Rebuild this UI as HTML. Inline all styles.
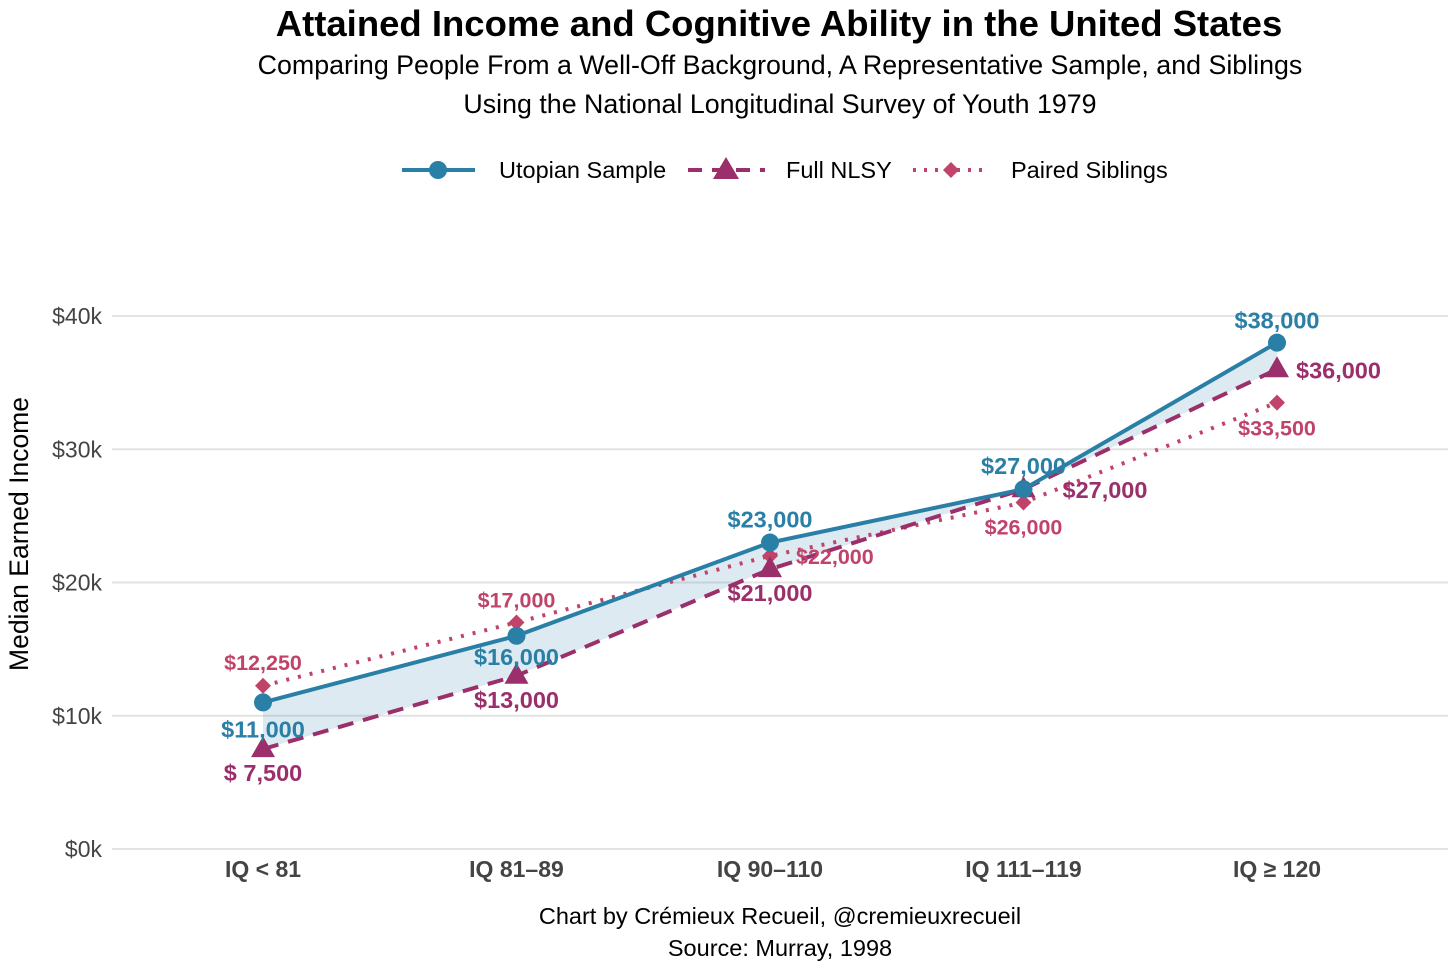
<!DOCTYPE html>
<html><head><meta charset="utf-8">
<style>
body{margin:0;background:#fff;font-family:"Liberation Sans",Arial,sans-serif;}
svg text{font-family:"Liberation Sans",Arial,sans-serif;}
</style></head>
<body>
<svg id="chart" width="1456" height="971" viewBox="0 0 1456 971" xmlns="http://www.w3.org/2000/svg">
<text x="779" y="36" text-anchor="middle" font-size="36.5" font-weight="bold" fill="#000">Attained Income and Cognitive Ability in the United States</text>
<text x="780" y="74" text-anchor="middle" font-size="26.8" fill="#000">Comparing People From a Well-Off Background, A Representative Sample, and Siblings</text>
<text x="780" y="113" text-anchor="middle" font-size="26.8" fill="#000">Using the National Longitudinal Survey of Youth 1979</text>
<g>
 <g>
  <line x1="402" y1="170" x2="475" y2="170" stroke="#2a7fa6" stroke-width="4"/>
  <circle cx="438" cy="170" r="9" fill="#2a7fa6"/>
  <text x="499" y="178" font-size="23.5" fill="#000">Utopian Sample</text>
 </g>
 <g>
  <line x1="688" y1="170" x2="765" y2="170" stroke="#9b2f6b" stroke-width="4" stroke-dasharray="14,10"/>
  <polygon points="726,157 739,179 713,179" fill="#9b2f6b"/>
  <text x="786" y="178" font-size="23.5" fill="#000">Full NLSY</text>
 </g>
 <g>
  <line x1="913" y1="170" x2="988" y2="170" stroke="#c0436a" stroke-width="4" stroke-dasharray="3,8"/>
  <polygon points="951,162 959,170 951,178 943,170" fill="#c0436a"/>
  <text x="1011" y="178" font-size="23.5" fill="#000">Paired Siblings</text>
 </g>
</g>
<text transform="translate(28,534) rotate(-90)" text-anchor="middle" font-size="26.5" fill="#000">Median Earned Income</text>
<g id="grid"></g>
<g id="marks"></g>
<text x="780" y="924" text-anchor="middle" font-size="23.5" fill="#000">Chart by Crémieux Recueil, @cremieuxrecueil</text>
<text x="780" y="956" text-anchor="middle" font-size="23.5" fill="#000">Source: Murray, 1998</text>
</svg>
<script>
const categories = ["IQ < 81", "IQ 81–89", "IQ 90–110", "IQ 111–119", "IQ ≥ 120"];
const utopian = [11000, 16000, 23000, 27000, 38000];
const fullNlsy = [7500, 13000, 21000, 27000, 36000];
const paired = [12250, 17000, 22000, 26000, 33500];
const utopianLabels = ["$11,000", "$16,000", "$23,000", "$27,000", "$38,000"];
const fullLabels = ["$ 7,500", "$13,000", "$21,000", "$27,000", "$36,000"];
const pairedLabels = ["$12,250", "$17,000", "$22,000", "$26,000", "$33,500"];
const yTicks = [0, 10000, 20000, 30000, 40000];
const yTickLabels = ["$0k", "$10k", "$20k", "$30k", "$40k"];

const NS = "http://www.w3.org/2000/svg";
function x(i){ return 263 + i * 253.5; }
function y(v){ return 849 - v * (533 / 40000); }
function mk(tag, attrs, parent){
  const e = document.createElementNS(NS, tag);
  for (const k in attrs) e.setAttribute(k, attrs[k]);
  parent.appendChild(e);
  return e;
}
const grid = document.getElementById("grid");
const marks = document.getElementById("marks");

yTicks.forEach((t, i) => {
  const l = mk("line", {x1:112, x2:1448, y1:y(t), y2:y(t), stroke:"#e3e3e3", "stroke-width":2}, grid);
  
  
  const tx = mk("text", {x:102, y:y(t)+8, "text-anchor":"end", "font-size":23, fill:"#444"}, grid);
  tx.textContent = yTickLabels[i];
  
  
});
categories.forEach((c, i) => {
  const tx = mk("text", {x:x(i), y:877, "text-anchor":"middle", "font-size":23, "font-weight":"bold", fill:"#444"}, grid);
  tx.textContent = c;
  
  
});

let pts = utopian.map((v,i)=>x(i)+","+y(v)).concat(fullNlsy.map((v,i)=>x(i)+","+y(v)).reverse());
const rib = mk("polygon", {points:pts.join(" "), fill:"#2a7fa6", "fill-opacity":0.16}, marks);



function line(data, color, dash, name){
  const p = mk("polyline", {points:data.map((v,i)=>x(i)+","+y(v)).join(" "), fill:"none", stroke:color, "stroke-width":4, "stroke-dasharray":dash, "stroke-linecap":"butt"}, marks);
  
  
}
line(paired, "#c0436a", "3,9", "paired-siblings-line");
line(fullNlsy, "#9b2f6b", "16,10", "full-nlsy-line");
line(utopian, "#2a7fa6", "none", "utopian-line");

paired.forEach((v,i)=>{
  const cx=x(i), cy=y(v);
  const d = mk("polygon", {points:`${cx},${cy-8} ${cx+8},${cy} ${cx},${cy+8} ${cx-8},${cy}`, fill:"#c0436a"}, marks);
  
  
});
fullNlsy.forEach((v,i)=>{
  const cx=x(i), cy=y(v);
  const t = mk("polygon", {points:`${cx},${cy-13} ${cx+12},${cy+8} ${cx-12},${cy+8}`, fill:"#9b2f6b"}, marks);
  
  
});
utopian.forEach((v,i)=>{
  const c = mk("circle", {cx:x(i), cy:y(v), r:9, fill:"#2a7fa6"}, marks);
  
  
});

const uOff = [[0,35,"middle"],[0,29,"middle"],[0,-15,"middle"],[0,-15,"middle"],[0,-14,"middle"]];
const fOff = [[0,32,"middle"],[0,32,"middle"],[0,32,"middle"],[39,9,"start"],[19,9,"start"]];
const pOff = [[0,-16,"middle"],[0,-15,"middle"],[26,8,"start"],[0,32,"middle"],[0,33,"middle"]];
function labels(data, txt, off, color, size, name){
  data.forEach((v,i)=>{
    const t = mk("text", {x:x(i)+off[i][0], y:y(v)+off[i][1], "text-anchor":off[i][2], "font-size":size, "font-weight":"bold", fill:color}, marks);
    t.textContent = txt[i];
    
    
  });
}
labels(paired, pairedLabels, pOff, "#c0436a", 21.5, "paired-siblings-label");
labels(fullNlsy, fullLabels, fOff, "#9b2f6b", 23.5, "full-nlsy-label");
labels(utopian, utopianLabels, uOff, "#2a7fa6", 23.5, "utopian-label");
</script>
</body></html>
